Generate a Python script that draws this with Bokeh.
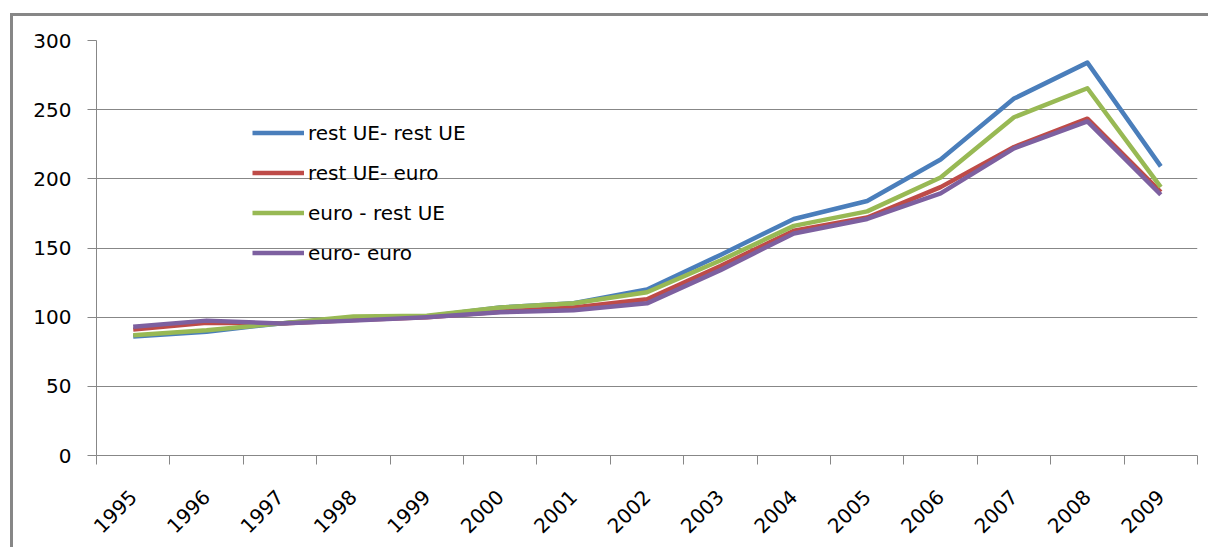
import math

from bokeh.embed import file_html
from bokeh.models import FixedTicker, Legend, LegendItem, Range1d
from bokeh.plotting import figure
from bokeh.resources import INLINE

# Index values by year, 1995-2009
years = ["1995", "1996", "1997", "1998", "1999", "2000", "2001", "2002",
         "2003", "2004", "2005", "2006", "2007", "2008", "2009"]
rest_ue_rest_ue = [86, 89.5, 95.5, 99.5, 100.5, 107, 110, 120, 145, 171, 184, 214, 258, 284, 209]
rest_ue_euro = [91, 96, 95.5, 98, 100, 104, 107, 113, 137, 162.5, 172, 194, 223, 243.5, 190.5]
euro_rest_ue = [87, 90.5, 95.5, 100.5, 101, 107, 110, 118, 141, 166, 176.5, 201, 244.5, 265.5, 194]
euro_euro = [93, 97.5, 95.5, 97.5, 100, 103.5, 105, 110, 134, 160.5, 171, 189.5, 222, 241.5, 188.5]

series_names = ["rest UE- rest UE", "rest UE- euro", "euro - rest UE", "euro- euro"]
series_values = [rest_ue_rest_ue, rest_ue_euro, euro_rest_ue, euro_euro]
series_colors = ["#4A7EBB", "#BE4B48", "#98B954", "#7D60A0"]

y_ticks = [0, 50, 100, 150, 200, 250, 300]

FONT = "DejaVu Sans"
GRAY = "#878787"

# each year sits in the middle of its own slot; tick marks go between slots
x_pos = [i + 0.5 for i in range(len(years))]

# the chart box has a gray frame on its top and left edges
p = figure(width=1198, height=534, output_backend="svg", toolbar_location=None,
           x_range=Range1d(0, len(years)), y_range=Range1d(0, 300),
           min_border_left=83, min_border_right=14, min_border_top=24,
           min_border_bottom=95, margin=(13, 0, 0, 10),
           styles={"border-top": f"3px solid {GRAY}",
                   "border-left": f"3px solid {GRAY}"})
p.outline_line_color = None
p.background_fill_color = "white"
p.border_fill_color = "white"

p.xgrid.grid_line_color = None
p.ygrid.ticker = FixedTicker(ticks=y_ticks)
p.ygrid.grid_line_color = GRAY
p.ygrid.grid_line_width = 1

xa = p.xaxis[0]
xa.ticker = FixedTicker(ticks=x_pos, minor_ticks=list(range(len(years) + 1)))
xa.major_label_overrides = {xp: y for xp, y in zip(x_pos, years)}
xa.major_tick_line_color = None
xa.minor_tick_line_color = GRAY
xa.minor_tick_out = 9
xa.minor_tick_in = 0
xa.axis_line_color = GRAY
xa.major_label_orientation = math.pi / 4
xa.major_label_standoff = 29
xa.major_label_text_font = FONT
xa.major_label_text_font_size = "20px"
xa.major_label_text_color = "black"

ya = p.yaxis[0]
ya.ticker = FixedTicker(ticks=y_ticks)
ya.minor_tick_line_color = None
ya.major_tick_line_color = GRAY
ya.major_tick_out = 9
ya.major_tick_in = 0
ya.axis_line_color = GRAY
ya.major_label_standoff = 16
ya.major_label_text_font = FONT
ya.major_label_text_font_size = "20px"
ya.major_label_text_color = "black"

items = []
for name, vals, color in zip(series_names, series_values, series_colors):
    r = p.line(x_pos, vals, line_color=color, line_width=4.5, line_join="round")
    items.append(LegendItem(label=name, renderers=[r]))

legend = Legend(items=items, location=(156, 184), padding=0, margin=0,
                border_line_color=None, background_fill_alpha=0,
                label_text_font=FONT, label_text_font_size="20px",
                label_text_color="black",
                glyph_width=52, glyph_height=37, label_height=37,
                spacing=3, label_standoff=4)
p.add_layout(legend)

open("out.html", "w").write(file_html(p, INLINE))
